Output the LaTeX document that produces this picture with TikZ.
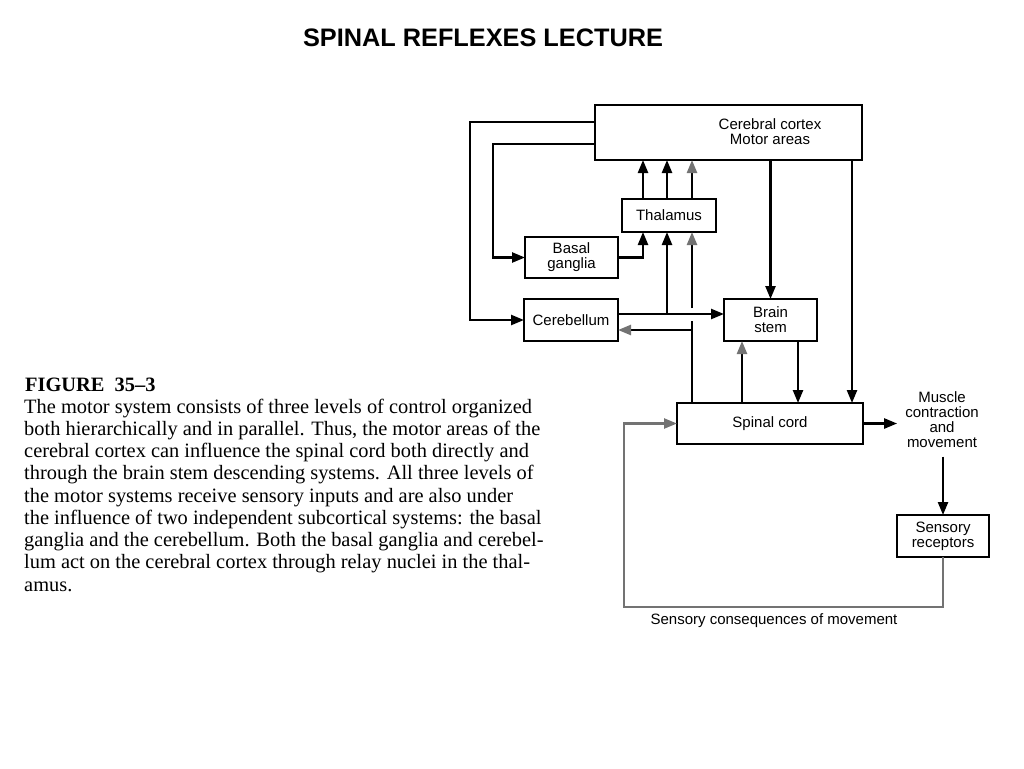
\documentclass[tikz,border=0pt]{standalone}
\usepackage{fontspec}
\setmainfont{Liberation Serif}
\newfontfamily\arial{Liberation Sans}
\usetikzlibrary{arrows.meta,calc}
\definecolor{sensgray}{gray}{0.45}
\tikzset{
  boxn/.style={draw, line width=1.3pt, inner sep=0pt, outer sep=0pt},
  lbl/.style={font=\arial\fontsize{15}{15}\selectfont, align=center, inner sep=0pt},
  arr/.style={line width=2.4pt, -{Triangle[length=13pt,width=10pt]}},
  garr/.style={line width=2.4pt, -{Triangle[length=13pt,width=10pt,color=sensgray]}},
  plainline/.style={line width=2.4pt},
  capline/.style={font=\fontsize{20.4}{22}\selectfont, anchor=base west, inner sep=0pt}
}
\begin{document}
\begin{tikzpicture}[x=1pt,y=-1pt]
\useasboundingbox (0,0) rectangle (1024,768);
% title
\node[font=\arial\bfseries\fontsize{25.3}{25}\selectfont, inner sep=0pt] (title) at (483,38) {SPINAL REFLEXES LECTURE};

% boxes
\node[boxn, minimum width=267pt, minimum height=55pt] (ctx) at (728.5,132.5) {};
\node[lbl] (ctxl) at (770,132) {Cerebral cortex\\Motor areas};
\node[boxn, minimum width=94pt, minimum height=33pt, lbl] (thal) at (669,215.5) {Thalamus};
\node[boxn, minimum width=93pt, minimum height=41pt, lbl] (basal) at (571.5,257.5) {Basal\\ganglia};
\node[boxn, minimum width=94pt, minimum height=42pt, lbl] (cereb) at (571,320) {Cerebellum};
\node[boxn, minimum width=93pt, minimum height=42pt, lbl] (bstem) at (770.5,320) {Brain\\stem};
\node[boxn, minimum width=186pt, minimum height=41pt, lbl] (spinal) at (770,423.5) {Spinal cord};
\node[lbl, inner xsep=8pt, inner ysep=9pt] (musc) at (942,419.5) {Muscle\\contraction\\and\\movement};
\node[boxn, minimum width=92pt, minimum height=42pt, lbl] (sens) at (943,536) {Sensory\\receptors};
\node[lbl, anchor=base] (cons) at (774,624.5) {Sensory consequences of movement};

% cortex to cerebellum and basal ganglia
\draw[arr] ([yshift=10.5pt]ctx.west) -| ([xshift=-54pt]cereb.west) -- (cereb.west);
\draw[arr] ([yshift=-11.5pt]ctx.west) -| ([xshift=-32pt]basal.west) -- (basal.west);

% thalamus inputs
\coordinate (tA) at ([xshift=-26pt]thal.south);
\coordinate (tB) at ([xshift=-2pt]thal.south);
\coordinate (tC) at ([xshift=23pt]thal.south);
\draw[arr] (basal.east) -| (tA);

% thalamus to cortex
\coordinate (nA) at ([xshift=-26pt]thal.north);
\coordinate (nB) at ([xshift=-2pt]thal.north);
\coordinate (nC) at ([xshift=23pt]thal.north);
\draw[arr] (nA) -- (nA |- ctx.south);
\draw[arr] (nB) -- (nB |- ctx.south);
\draw[garr] (nC) -- (nC |- ctx.south);

% cerebellum outputs
\coordinate (ce) at ([yshift=6pt]cereb.east);
\draw[arr] (ce) -- (ce -| bstem.west);
\draw[arr] (tB |- ce) -- (tB);

% spinal cord ascending to thalamus and cerebellum
\coordinate (v3) at ([xshift=-78pt]spinal.north);
\draw[plainline] (v3) -- ($(v3 |- ce)+(0,7)$);
\draw[garr] ($(v3 |- ce)+(0,-6)$) -- (tC);
\coordinate (cb) at ([yshift=-10pt]cereb.east);
\draw[garr] (v3 |- cb) -- (cb);

% cortex descending
\coordinate (dA) at ([xshift=82pt]spinal.north);
\draw[arr] (bstem.north |- ctx.south) -- (bstem.north);
\draw[arr] (dA |- ctx.south) -- (dA);

% brain stem and spinal cord
\coordinate (bs) at ([xshift=27.5pt]bstem.south);
\draw[arr] (bs) -- (bs |- spinal.north);
\coordinate (sb) at ([xshift=-28pt]spinal.north);
\draw[garr] (sb) -- (sb |- bstem.south);

% output and feedback
\draw[arr] (spinal.east) -- (spinal.east -| musc.west);
\draw[arr] (sens.north |- musc.south) -- (sens.north);
\coordinate (fb) at (624,607);
\draw[line width=2.4pt, sensgray, -{Triangle[length=13pt,width=10pt]}] (sens.south) |- (fb) |- (spinal.west);

% caption
\node[font=\bfseries\fontsize{20.4}{22}\selectfont, anchor=base west, inner sep=0pt] (fig) at (25,391) {FIGURE\hspace{0.5em}35--3};
\foreach \t [count=\i] in {
  {The motor system consists of three levels of control organized},
  {both hierarchically and in parallel. Thus, the motor areas of the},
  {cerebral cortex can influence the spinal cord both directly and},
  {through the brain stem descending systems. All three levels of},
  {the motor systems receive sensory inputs and are also under},
  {the influence of two independent subcortical systems: the basal},
  {ganglia and the cerebellum. Both the basal ganglia and cerebel-},
  {lum act on the cerebral cortex through relay nuclei in the thal-},
  {amus.}}
  \node[capline] (cap\i) at (24,{413+22.25*(\i-1)}) {\t};
\end{tikzpicture}
\end{document}
